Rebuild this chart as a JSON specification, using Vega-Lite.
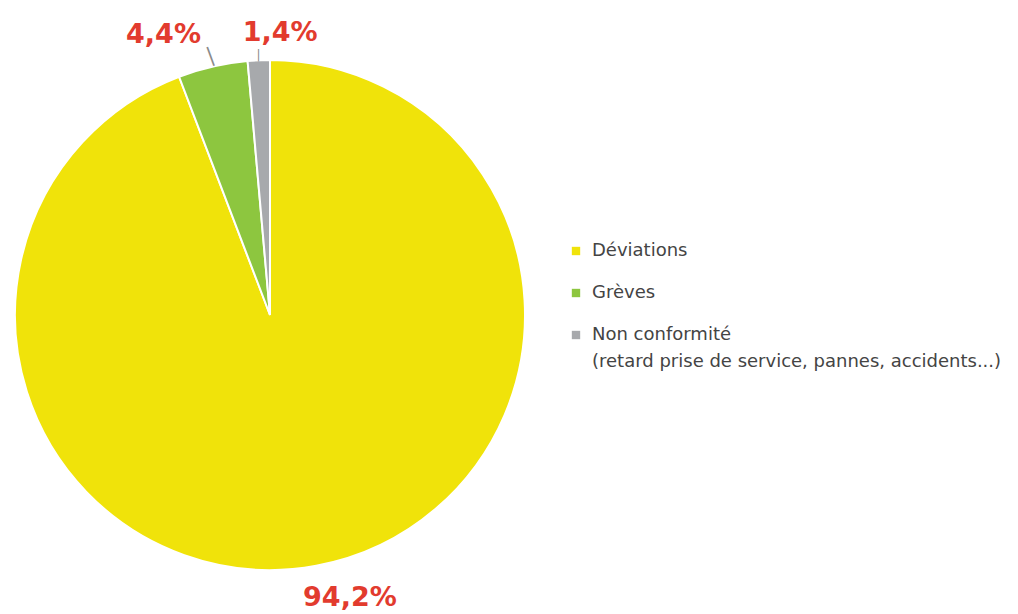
{
  "$schema": "https://vega.github.io/schema/vega-lite/v6.json",
  "width": 540,
  "height": 614,
  "autosize": {"type": "none"},
  "padding": {"top": 8, "left": 0, "right": 478, "bottom": 0},
  "background": "white",
  "config": {"view": {"stroke": null}, "font": "DejaVu Sans", "style": {"guide-label": {"lineHeight": 27}}},
  "data": {
    "values": [
      {"category": "Déviations", "value": 94.2, "label": "94,2%"},
      {"category": "Grèves", "value": 4.4, "label": "4,4%"},
      {"category": "Non conformité", "value": 1.4, "label": "1,4%"}
    ]
  },
  "encoding": {
    "theta": {"field": "value", "type": "quantitative", "stack": true},
    "order": {"field": "category", "type": "nominal"}
  },
  "layer": [
    {
      "mark": {"type": "arc", "outerRadius": 255, "stroke": "white", "strokeWidth": 2},
      "encoding": {
        "color": {
          "field": "category",
          "type": "nominal",
          "scale": {"domain": ["Déviations", "Grèves", "Non conformité"], "range": ["#F0E30A", "#8DC63F", "#A7A9AC"]},
          "legend": {
            "title": null,
            "orient": "none",
            "legendX": 567,
            "legendY": 234,
            "symbolType": "square",
            "symbolSize": 70,
            "symbolStrokeWidth": 0,
            "labelFont": "DejaVu Sans",
            "labelFontSize": 18,
            "labelColor": "#444444",
            "labelLimit": 600,
            "labelOffset": 7,
            "rowPadding": 24,
            "labelExpr": "datum.label == 'Non conformité' ? ['Non conformité', '(retard prise de service, pannes, accidents...)'] : datum.label"
          }
        }
      }
    },
    {
      "mark": {"type": "text", "radius": 292, "dx": -41, "dy": 5, "fontSize": 27, "fontWeight": "bold", "color": "#E23B2E"},
      "encoding": {"text": {"condition": {"test": "datum.category == 'Grèves'", "field": "label"}, "value": ""}}
    },
    {
      "mark": {"type": "text", "radius": 292, "dx": 23, "dy": 10, "fontSize": 27, "fontWeight": "bold", "color": "#E23B2E"},
      "encoding": {"text": {"condition": {"test": "datum.category == 'Non conformité'", "field": "label"}, "value": ""}}
    },
    {
      "mark": {"type": "text", "radius": 292, "dx": 27, "dy": -4, "fontSize": 27, "fontWeight": "bold", "color": "#E23B2E"},
      "encoding": {"text": {"condition": {"test": "datum.category == 'Déviations'", "field": "label"}, "value": ""}}
    },
    {
      "mark": {"type": "text", "radius": 266, "angle": -20, "fontSize": 20, "color": "#8a8a8a"},
      "encoding": {"text": {"condition": {"test": "datum.category == 'Grèves'", "value": "|"}, "value": ""}}
    },
    {
      "mark": {"type": "text", "radius": 260, "fontSize": 12, "color": "#8a8a8a"},
      "encoding": {"text": {"condition": {"test": "datum.category == 'Non conformité'", "value": "|"}, "value": ""}}
    }
  ]
}
